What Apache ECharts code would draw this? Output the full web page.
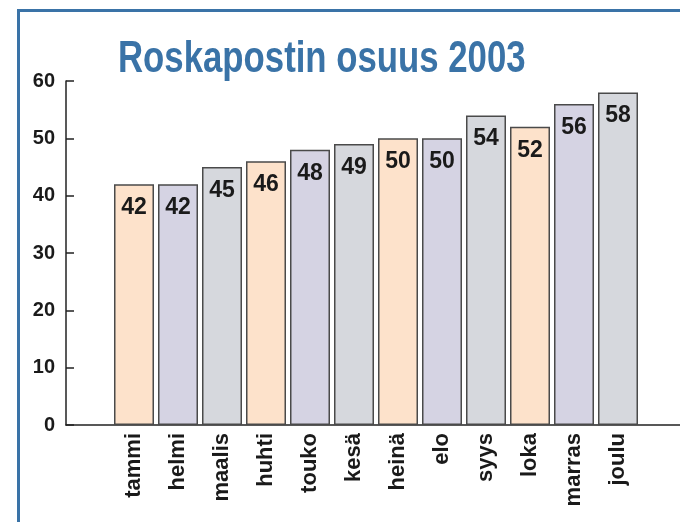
<!DOCTYPE html>
<html>
<head>
<meta charset="utf-8">
<script src="https://cdn.jsdelivr.net/npm/echarts@6/dist/echarts.min.js"></script>
<style>
  html, body { margin: 0; padding: 0; background: #fff; }
  #chart { width: 680px; height: 522px; }
</style>
</head>
<body>
<div id="chart"></div>
<script>
// kuukaudet ja roskapostin osuus (%)
const months = ['tammi', 'helmi', 'maalis', 'huhti', 'touko', 'kesä',
  'heinä', 'elo', 'syys', 'loka', 'marras', 'joulu'];
const shares = [42, 42, 45, 46, 48, 49, 50, 50, 54, 52, 56, 58];
const yTicks = [0, 10, 20, 30, 40, 50, 60];

const palette = ['#fde2cb', '#d5d3e3', '#d6d8dd'];
const font = "'Liberation Sans', Arial, sans-serif";

var chart = echarts.init(document.getElementById('chart'));

chart.setOption({
  backgroundColor: '#fff',
  animation: false,
  graphic: [
    {
      type: 'rect',
      shape: { x: 18.5, y: 10.5, width: 700, height: 600 },
      style: { fill: 'none', stroke: '#3a73a7', lineWidth: 3 },
      silent: true
    },
    {
      // otsikko kapeana (ei tiivistettyä fonttia saatavilla)
      type: 'text',
      x: 118,
      y: 38,
      scaleX: 0.79,
      style: {
        text: 'Roskapostin osuus 2003',
        font: 'bold 44px ' + font,
        fill: '#3a73a7',
        verticalAlign: 'top'
      },
      silent: true
    }
  ],
  grid: [
    { left: 112, right: 40, top: 81, bottom: 97 },
    { left: 66, right: 0, top: 81, bottom: 97 }
  ],
  xAxis: [
    {
      type: 'category',
      gridIndex: 0,
      data: months,
      axisLine: { show: false },
      axisTick: { show: false },
      axisLabel: {
        rotate: 90,
        interval: 0,
        margin: 8,
        fontFamily: font,
        fontWeight: 'bold',
        fontSize: 22,
        color: '#1a1a1a'
      }
    },
    {
      type: 'value',
      gridIndex: 1,
      min: 0,
      max: 1,
      splitLine: { show: false },
      axisTick: { show: false },
      axisLabel: { show: false },
      axisLine: { show: true, lineStyle: { color: '#222', width: 1.5 } }
    }
  ],
  yAxis: [
    {
      type: 'value',
      gridIndex: 0,
      min: 0,
      max: 60,
      interval: 10,
      show: false
    },
    {
      type: 'value',
      gridIndex: 1,
      min: yTicks[0],
      max: yTicks[yTicks.length - 1],
      interval: 10,
      splitLine: { show: false },
      axisLine: { show: true, lineStyle: { color: '#222', width: 1.5 } },
      axisTick: { show: true, inside: true, length: 8, lineStyle: { color: '#222', width: 1.5 } },
      axisLabel: {
        margin: 11,
        fontFamily: font,
        fontWeight: 'bold',
        fontSize: 20,
        color: '#1a1a1a'
      }
    }
  ],
  series: [
    {
      type: 'bar',
      xAxisIndex: 0,
      yAxisIndex: 0,
      data: shares,
      barWidth: 40,
      itemStyle: {
        color: function (p) { return palette[p.dataIndex % 3]; },
        borderColor: '#4a4a4a',
        borderWidth: 1.5
      },
      label: {
        show: true,
        position: 'insideTop',
        distance: 12,
        fontFamily: font,
        fontWeight: 'bold',
        fontSize: 23,
        color: '#1a1a1a'
      }
    }
  ]
});
</script>
</body>
</html>
